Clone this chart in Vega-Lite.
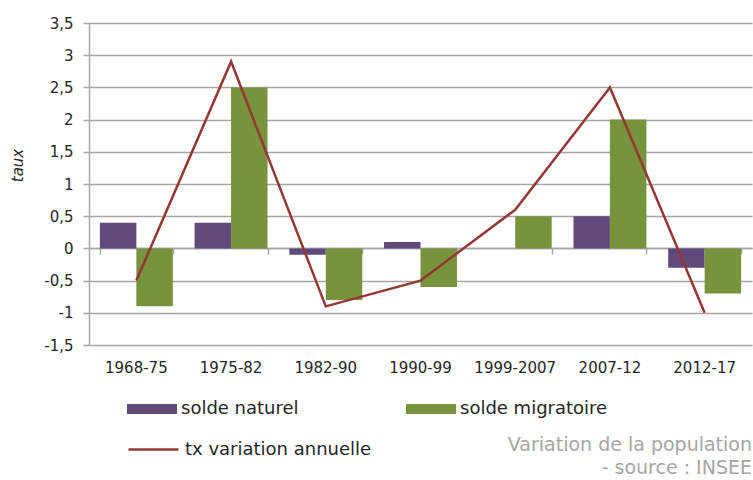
{
  "$schema": "https://vega.github.io/schema/vega-lite/v6.json",
  "width": 663,
  "height": 322,
  "autosize": {"type": "none"},
  "padding": {"left": 89, "top": 23, "right": 1, "bottom": 135},
  "background": "white",
  "config": {"font": "DejaVu Sans", "view": {"stroke": null}},
  "title": {
    "text": ["Variation de la population", "- source : INSEE"],
    "orient": "bottom",
    "anchor": "end",
    "align": "right",
    "color": "#a6a6a6",
    "fontSize": 19,
    "fontWeight": "normal",
    "lineHeight": 23,
    "offset": -23
  },
  "datasets": {
    "bars": [
      {"periode": "1968-75", "serie": "solde naturel", "valeur": 0.4},
      {"periode": "1968-75", "serie": "solde migratoire", "valeur": -0.9},
      {"periode": "1975-82", "serie": "solde naturel", "valeur": 0.4},
      {"periode": "1975-82", "serie": "solde migratoire", "valeur": 2.5},
      {"periode": "1982-90", "serie": "solde naturel", "valeur": -0.1},
      {"periode": "1982-90", "serie": "solde migratoire", "valeur": -0.8},
      {"periode": "1990-99", "serie": "solde naturel", "valeur": 0.1},
      {"periode": "1990-99", "serie": "solde migratoire", "valeur": -0.6},
      {"periode": "1999-2007", "serie": "solde naturel", "valeur": 0},
      {"periode": "1999-2007", "serie": "solde migratoire", "valeur": 0.5},
      {"periode": "2007-12", "serie": "solde naturel", "valeur": 0.5},
      {"periode": "2007-12", "serie": "solde migratoire", "valeur": 2.0},
      {"periode": "2012-17", "serie": "solde naturel", "valeur": -0.3},
      {"periode": "2012-17", "serie": "solde migratoire", "valeur": -0.7}
    ],
    "ligne": [
      {"periode": "1968-75", "valeur": -0.5},
      {"periode": "1975-82", "valeur": 2.9},
      {"periode": "1982-90", "valeur": -0.9},
      {"periode": "1990-99", "valeur": -0.5},
      {"periode": "1999-2007", "valeur": 0.6},
      {"periode": "2007-12", "valeur": 2.5},
      {"periode": "2012-17", "valeur": -1.0}
    ]
  },
  "layer": [
    {
      "data": {"name": "bars"},
      "mark": {"type": "bar"},
      "encoding": {
        "x": {
          "field": "periode",
          "type": "nominal",
          "sort": null,
          "scale": {"paddingInner": 0.23, "paddingOuter": 0.115},
          "axis": {
            "orient": "bottom",
            "domain": false,
            "ticks": false,
            "grid": false,
            "labelAngle": 0,
            "labelFontSize": 15,
            "labelColor": "#262626",
            "labelPadding": 15,
            "title": null
          }
        },
        "xOffset": {
          "field": "serie",
          "type": "nominal",
          "sort": ["solde naturel", "solde migratoire"],
          "scale": {"paddingInner": 0, "paddingOuter": 0}
        },
        "y": {
          "field": "valeur",
          "type": "quantitative",
          "scale": {"domain": [-1.5, 3.5], "nice": false},
          "axis": {
            "values": [-1.5, -1, -0.5, 0, 0.5, 1, 1.5, 2, 2.5, 3, 3.5],
            "tickCount": 20,
            "labelExpr": "replace(replace(format(datum.value, '.1~f'), '.', ','), '\u2212', '-')",
            "labelOverlap": false,
            "labelFlush": false,
            "grid": true,
            "gridColor": "#a6a6a6",
            "gridWidth": 1.5,
            "domain": true,
            "domainColor": "#a6a6a6",
            "domainWidth": 1.5,
            "ticks": true,
            "tickColor": "#a6a6a6",
            "tickWidth": 1.5,
            "tickSize": 6,
            "labelFontSize": 15,
            "labelColor": "#262626",
            "labelPadding": 10,
            "title": "taux",
            "titleFontStyle": "italic",
            "titleFontWeight": "normal",
            "titleFontSize": 15,
            "titleColor": "#262626",
            "titleX": -72,
            "titleY": 142,
            "titleAngle": -90,
            "titleAlign": "center",
            "titleBaseline": "middle"
          }
        },
        "fill": {
          "field": "serie",
          "type": "nominal",
          "sort": ["solde naturel", "solde migratoire"],
          "scale": {"domain": ["solde naturel", "solde migratoire"], "range": ["#604A7B", "#77933C"]},
          "legend": {
            "title": null,
            "orient": "none",
            "legendX": 38,
            "legendY": 361,
            "direction": "horizontal",
            "columns": 2,
            "columnPadding": 107,
            "padding": 0,
            "symbolType": "M-1,-0.2H1V0.2H-1Z",
            "symbolSize": 2500,
            "symbolStrokeWidth": 0,
            "symbolOpacity": 1,
            "labelFontSize": 18,
            "labelColor": "#262626",
            "labelOffset": 4,
            "labelLimit": 400
          }
        }
      }
    },
    {
      "data": {"name": "ligne"},
      "mark": {"type": "line", "strokeWidth": 2.5},
      "encoding": {
        "x": {
          "field": "periode",
          "type": "nominal",
          "sort": null,
          "axis": {
            "orient": "bottom",
            "offset": -97,
            "labels": false,
            "domain": true,
            "domainColor": "#a6a6a6",
            "domainWidth": 1.5,
            "ticks": true,
            "tickBand": "extent",
            "tickSize": 6,
            "tickColor": "#a6a6a6",
            "tickWidth": 1.5,
            "grid": false,
            "title": null
          }
        },
        "y": {"field": "valeur", "type": "quantitative"},
        "stroke": {
          "datum": "tx variation annuelle",
          "type": "nominal",
          "scale": {"range": ["#953735"]},
          "legend": {
            "title": null,
            "orient": "none",
            "legendX": 38,
            "legendY": 400,
            "padding": 0,
            "symbolType": "stroke",
            "symbolSize": 2500,
            "symbolStrokeWidth": 2.5,
            "labelFontSize": 18,
            "labelColor": "#262626",
            "labelOffset": 5,
            "labelLimit": 400
          }
        }
      }
    }
  ],
  "resolve": {"axis": {"x": "independent"}, "scale": {"fill": "independent", "stroke": "independent"}}
}
